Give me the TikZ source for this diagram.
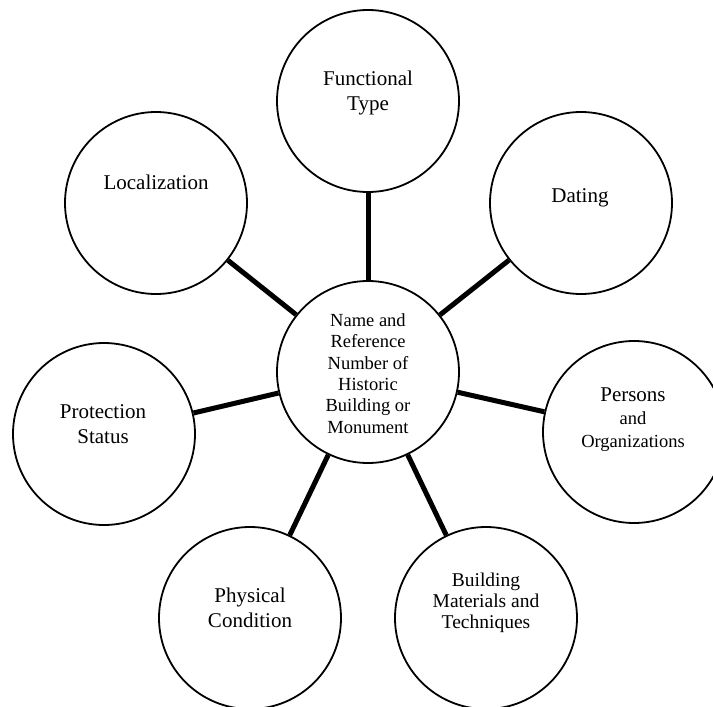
\documentclass[tikz,border=0pt]{standalone}
\usepackage{fontspec}
\setmainfont{Liberation Serif}
\begin{document}
\begin{tikzpicture}[x=1pt,y=-1pt,
  bubble/.style={circle,draw,line width=1.8pt,minimum size=182pt,inner sep=0pt},
  spoke/.style={line width=5pt},
  lbl/.style={align=center,anchor=base,inner sep=0pt,font=\fontsize{21}{25}\selectfont},
  lblsmall/.style={align=center,anchor=base,inner sep=0pt,font=\fontsize{18.5}{21.3}\selectfont}]
\useasboundingbox (0,0) rectangle (713,707);
% circles
\node[bubble] (c)   at (368,372) {};
\node[bubble] (ft)  at (368,101) {};
\node[bubble] (dat) at (581,203) {};
\node[bubble] (loc) at (156,203) {};
\node[bubble] (pro) at (104,434) {};
\node[bubble] (per) at (634,432) {};
\node[bubble] (bmt) at (486,618) {};
\node[bubble] (phy) at (250,618) {};
% spokes
\draw[spoke] (c) -- (ft);
\draw[spoke] (c) -- (dat);
\draw[spoke] (c) -- (loc);
\draw[spoke] (c) -- (pro);
\draw[spoke] (c) -- (per);
\draw[spoke] (c) -- (bmt);
\draw[spoke] (c) -- (phy);
% labels (anchor = baseline of the last line)
\node[lblsmall] (ct) at (368,433) {Name and\\Reference\\Number of\\Historic\\Building or\\Monument};
\node[lbl] (ftt) at (368,110) {Functional\\Type};
\node[lbl] (datt) at (580,202) {Dating};
\node[lbl] (loct) at (156,189) {Localization};
\node[lbl] (prot) at (103,443) {Protection\\Status};
\node[lbl,font=\fontsize{21}{23}\selectfont] (pert) at (633,447) {Persons\\{\fontsize{18.5}{21}\selectfont and}\\{\fontsize{18.5}{21}\selectfont Organizations}};
\node[lbl,font=\fontsize{19.5}{21}\selectfont] (bmtt) at (486,628) {Building\\Materials and\\Techniques};
\node[lbl] (phyt) at (250,627) {Physical\\Condition};
\end{tikzpicture}
\end{document}
